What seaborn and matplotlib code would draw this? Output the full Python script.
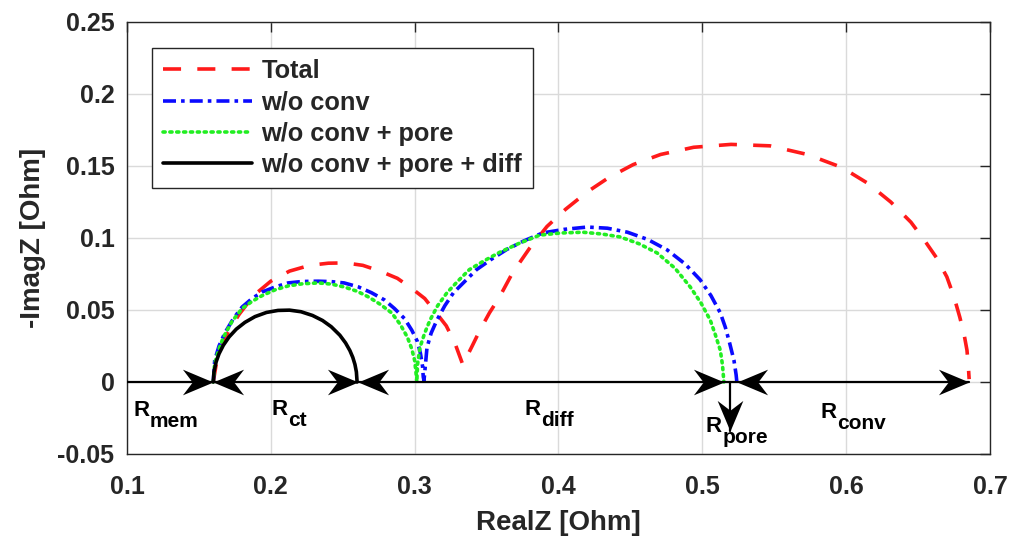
import matplotlib
matplotlib.use("Agg")
import matplotlib.pyplot as plt
from matplotlib.path import Path
import numpy as np
import pandas as pd
import seaborn as sns

# ---------------- data ----------------
series_names = ["Total", "w/o conv", "w/o conv + pore", "w/o conv + pore + diff"]
series_colors = ["#ff1a1a", "#0a0aff", "#22ee22", "#000000"]

total_x = [0.160, 0.162, 0.166, 0.171, 0.178, 0.188, 0.200, 0.213, 0.227, 0.240,
           0.252, 0.264, 0.276, 0.288, 0.298, 0.307, 0.315, 0.322, 0.328, 0.3335,
           0.340, 0.3454, 0.352, 0.359, 0.368, 0.380, 0.392, 0.405, 0.420, 0.435,
           0.452, 0.471, 0.494, 0.520, 0.547, 0.573, 0.597, 0.615, 0.631, 0.645,
           0.654, 0.663, 0.670, 0.675, 0.679, 0.682, 0.684, 0.685, 0.6855]
total_y = [0.000, 0.012, 0.025, 0.036, 0.047, 0.060, 0.070, 0.077, 0.081, 0.0825,
           0.0827, 0.081, 0.077, 0.072, 0.065, 0.058, 0.048, 0.039, 0.027, 0.012,
           0.025, 0.036, 0.048, 0.059, 0.0757, 0.093, 0.108, 0.120, 0.132, 0.142,
           0.151, 0.158, 0.163, 0.165, 0.164, 0.158, 0.149, 0.138, 0.125, 0.111,
           0.099, 0.086, 0.073, 0.059, 0.045, 0.033, 0.022, 0.010, 0.002]

noconv_x = [0.160, 0.161, 0.164, 0.168, 0.174, 0.180, 0.187, 0.194, 0.203, 0.212,
            0.222, 0.233, 0.242, 0.251, 0.261, 0.270, 0.279, 0.286, 0.293, 0.298,
            0.302, 0.304, 0.3055, 0.306, 0.3065, 0.3075, 0.3086, 0.3115, 0.3155, 0.321,
            0.327, 0.335, 0.343, 0.353, 0.364, 0.376, 0.389, 0.404, 0.420, 0.434,
            0.448, 0.462, 0.4756, 0.488, 0.4985, 0.506, 0.5125, 0.516, 0.519, 0.522,
            0.5235, 0.524]
noconv_y = [0.000, 0.015, 0.025, 0.034, 0.044, 0.052, 0.058, 0.0625, 0.066, 0.0688,
            0.0698, 0.070, 0.0697, 0.0688, 0.066, 0.062, 0.057, 0.051, 0.044, 0.036,
            0.028, 0.020, 0.011, 0.0035, 0.001, 0.012, 0.024, 0.034, 0.043, 0.053,
            0.062, 0.070, 0.078, 0.085, 0.092, 0.098, 0.1035, 0.106, 0.1076, 0.1068,
            0.104, 0.099, 0.0917, 0.082, 0.071, 0.060, 0.048, 0.038, 0.027, 0.015,
            0.005, 0.000]

nopore_x = [0.160, 0.161, 0.164, 0.167, 0.173, 0.180, 0.187, 0.194, 0.203, 0.212,
            0.222, 0.233, 0.242, 0.251, 0.260, 0.268, 0.276, 0.284, 0.290, 0.295,
            0.298, 0.300, 0.301, 0.3015, 0.302, 0.3037, 0.307, 0.3107, 0.316, 0.3225,
            0.330, 0.338, 0.348, 0.359, 0.372, 0.387, 0.402, 0.417, 0.430, 0.443,
            0.456, 0.4686, 0.481, 0.4916, 0.499, 0.5055, 0.509, 0.5125, 0.514, 0.515]
nopore_y = [0.000, 0.013, 0.023, 0.031, 0.042, 0.051, 0.056, 0.060, 0.064, 0.0667,
            0.0682, 0.0688, 0.068, 0.066, 0.063, 0.059, 0.054, 0.048, 0.040, 0.031,
            0.023, 0.015, 0.006, 0.000, 0.012, 0.024, 0.034, 0.043, 0.053, 0.062,
            0.070, 0.078, 0.084, 0.090, 0.096, 0.102, 0.1035, 0.104, 0.1028, 0.1007,
            0.096, 0.0896, 0.079, 0.066, 0.055, 0.043, 0.033, 0.022, 0.012, 0.000]

nodiff_x = [0.160, 0.1605, 0.162, 0.164, 0.167, 0.171, 0.176, 0.182, 0.189, 0.197,
            0.205, 0.213, 0.221, 0.229, 0.236, 0.242, 0.248, 0.252, 0.255, 0.257,
            0.2585, 0.2595, 0.260]
nodiff_y = [0.000, 0.007, 0.014, 0.0196, 0.0255, 0.0313, 0.0367, 0.0414, 0.0454, 0.0483,
            0.0497, 0.0499, 0.0488, 0.0462, 0.0427, 0.0384, 0.0325, 0.0271, 0.0218, 0.0171,
            0.0122, 0.0070, 0.000]

# resistance boundaries on the real axis
r_points = [0.100, 0.160, 0.2605, 0.515, 0.524, 0.6855]
r_pore_x = 0.5195
r_pore_tip = -0.034
r_labels = ["mem", "ct", "diff", "pore", "conv"]
r_label_x = [0.1045, 0.2005, 0.3765, 0.5025, 0.5820]
r_label_y = [-0.0195, -0.0190, -0.0190, -0.0310, -0.0210]

x_ticks = [0.1, 0.2, 0.3, 0.4, 0.5, 0.6, 0.7]
x_tick_labels = ["0.1", "0.2", "0.3", "0.4", "0.5", "0.6", "0.7"]
y_ticks = [-0.05, 0.0, 0.05, 0.1, 0.15, 0.2, 0.25]
y_tick_labels = ["-0.05", "0", "0.05", "0.1", "0.15", "0.2", "0.25"]

# ---------------- build frame ----------------
frames = []
for name, xs, ys in zip(series_names,
                        [total_x, noconv_x, nopore_x, nodiff_x],
                        [total_y, noconv_y, nopore_y, nodiff_y]):
    frames.append(pd.DataFrame({"x": xs, "y": ys, "series": name}))
df = pd.concat(frames, ignore_index=True)

sns.set_theme(style="white")
plt.rcParams["font.family"] = ["Liberation Sans", "DejaVu Sans"]
plt.rcParams["font.weight"] = "bold"
plt.rcParams["axes.labelweight"] = "bold"

fig = plt.figure(figsize=(10.1, 5.39), dpi=100)
ax = fig.add_axes([0.1257, 0.1577, 0.8545, 0.8015])

dash_map = {"Total": (5.0, 4.5),
            "w/o conv": (3.6, 1.4, 1.0, 1.4),
            "w/o conv + pore": (0.6, 1.3),
            "w/o conv + pore + diff": ""}
palette = dict(zip(series_names, series_colors))

sns.lineplot(data=df, x="x", y="y", hue="series", style="series",
             hue_order=series_names, style_order=series_names,
             palette=palette, dashes=dash_map, sort=False, estimator=None,
             lw=2.6, ax=ax, legend=True)

for line in ax.lines:
    if line.get_color() == "#22ee22":
        line.set_dash_capstyle("round")

# MATLAB-like 'vback2' arrow heads as custom markers (tip at marker origin)
def head(direction):
    base = np.array([[0, 0], [-1.0, 0.42], [-0.68, 0.0], [-1.0, -0.42], [0, 0]])
    if direction == "left":
        base = base * np.array([-1, 1])
    elif direction == "down":
        base = np.column_stack([base[:, 1], -base[:, 0]])
    codes = [Path.MOVETO, Path.LINETO, Path.LINETO, Path.LINETO, Path.CLOSEPOLY]
    return Path(base, codes)

shaft_kw = dict(color="black", lw=1.6, zorder=3)
head_kw = dict(color="black", markersize=44, linestyle="none", zorder=4,
               markeredgewidth=0)
ax.plot([r_points[0], r_points[-1]], [0, 0], **shaft_kw)
ax.plot([r_pore_x, r_pore_x], [0, r_pore_tip], **shaft_kw)
right_tips = [r_points[1], r_points[2], r_points[3], r_points[5]]
left_tips = [r_points[1], r_points[2], r_points[4]]
ax.plot(right_tips, [0] * len(right_tips), marker=head("right"), **head_kw)
ax.plot(left_tips, [0] * len(left_tips), marker=head("left"), **head_kw)
ax.plot([r_pore_x], [r_pore_tip], marker=head("down"), **head_kw)

for sub, lx, ly in zip(r_labels, r_label_x, r_label_y):
    ax.text(lx, ly, "R", fontsize=16, fontweight="bold", color="black",
            ha="left", va="center")
    ax.annotate(sub, xy=(lx, ly), xytext=(12, -8), textcoords="offset points",
                fontsize=15, fontweight="bold", color="black", ha="left", va="center")

# axes styling
ax.set_xlim(0.1, 0.7)
ax.set_ylim(-0.05, 0.25)
ax.set_xticks(x_ticks)
ax.set_xticklabels(x_tick_labels)
ax.set_yticks(y_ticks)
ax.set_yticklabels(y_tick_labels)
ax.grid(True, color="#dadada", lw=1.0)
ax.set_axisbelow(True)
ax.tick_params(direction="in", length=7, width=1.0, top=True, right=True,
               labelsize=18, labelcolor="#262626", color="#262626", pad=9)
ax.tick_params(axis="x", pad=15)
for lbl in ax.get_xticklabels() + ax.get_yticklabels():
    lbl.set_fontweight("bold")
for sp in ax.spines.values():
    sp.set_color("#262626")
    sp.set_linewidth(1.0)
ax.set_xlabel("RealZ [Ohm]", fontsize=20, fontweight="bold", color="#262626", labelpad=8)
ax.set_ylabel("-ImagZ [Ohm]", fontsize=20, fontweight="bold", color="#262626", labelpad=8)

# legend
handles, labels = ax.get_legend_handles_labels()
hl = [(h, l) for h, l in zip(handles, labels) if l in series_names]
for h, _ in hl:
    h.set_linewidth(2.6)
leg = ax.legend([h for h, _ in hl], [l for _, l in hl], loc="upper left",
                bbox_to_anchor=(0.029, 0.940), borderaxespad=0, fontsize=18.3,
                handlelength=3.5, handletextpad=0.35, labelspacing=0.28,
                frameon=True, fancybox=False, framealpha=1, edgecolor="#262626",
                borderpad=0.45)
leg.get_frame().set_linewidth(1.0)
for t in leg.get_texts():
    t.set_fontweight("bold")

fig.savefig("out.png", dpi=100)
